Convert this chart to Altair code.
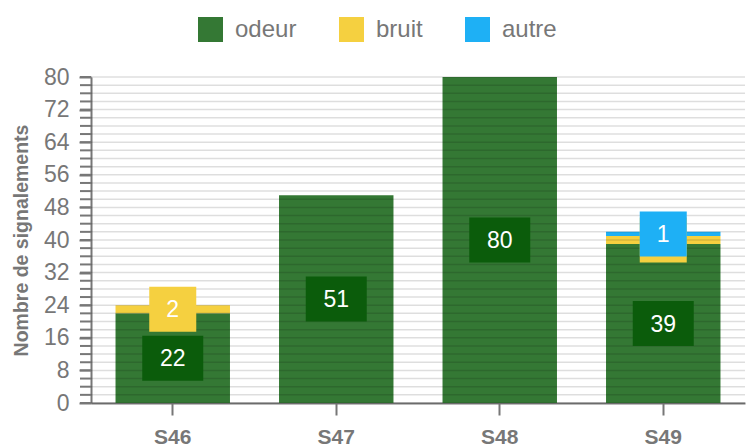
import altair as alt
import pandas as pd

weeks = ["S46", "S47", "S48", "S49"]
series = ["odeur", "bruit", "autre"]
odeur = [22, 51, 80, 39]
bruit = [2, 0, 0, 2]
autre = [0, 0, 0, 1]
bar_colors = ["#347834", "#f5d040", "#1eb0f5"]
label_colors = ["#0b5c0b", "#f5d040", "#1eb0f5"]
y_labels = list(range(0, 81, 8))
y_minor = list(range(0, 82, 2))

rows = []
for s_i, (name, vals) in enumerate(zip(series, [odeur, bruit, autre])):
    for w, v in zip(weeks, vals):
        rows.append({"week": w, "serie": name, "value": v, "ord": s_i})
df = pd.DataFrame(rows)

FONT = "Liberation Sans"
GRAY = "#777777"

base = alt.Chart(df).transform_stack(
    stack="value", groupby=["week"], as_=["y0", "y1"], sort=[alt.SortField("ord")]
).transform_calculate(mid="(datum.y0 + datum.y1) / 2")

xaxis = alt.Axis(title=None, labelFontSize=21, labelFontWeight="bold",
                 labelColor=GRAY, labelPadding=11, tickSize=12, tickWidth=2,
                 tickColor=GRAY, domainColor=GRAY, domainWidth=2, labelAngle=0)
xscale = alt.Scale(paddingInner=0.3, paddingOuter=0.15)
yaxis = alt.Axis(title="Nombre de signalements", values=y_labels,
                 labelOverlap=False, labelBound=False, grid=False, labelFontSize=23,
                 labelColor=GRAY, labelPadding=10, ticks=True, tickSize=12,
                 tickWidth=2, tickColor=GRAY, domainColor=GRAY, domainWidth=2,
                 titleFontSize=19.5, titleFontWeight="bold", titleColor=GRAY,
                 titlePadding=12)
yscale = alt.Scale(domain=[0, 80], nice=False)


def X():
    return alt.X("week:N", sort=weeks, scale=xscale, axis=xaxis)


def Y(field):
    return alt.Y(field, scale=yscale, axis=yaxis, title="Nombre de signalements")


bars = base.mark_bar().encode(
    x=X(),
    y=Y("y1:Q"),
    y2="y0:Q",
    color=alt.Color("serie:N", scale=alt.Scale(domain=series, range=bar_colors),
                    legend=alt.Legend(title=None, orient="none", direction="horizontal",
                                      legendX=107, legendY=-60, symbolType="square",
                                      symbolSize=625, symbolStrokeWidth=0, symbolOpacity=1,
                                      labelFontSize=24, labelColor=GRAY, labelOffset=12,
                                      columnPadding=42, padding=0)),
).transform_filter("datum.value > 0")

minor_df = pd.DataFrame({"v": y_minor})
grid = alt.Chart(minor_df).mark_rule(
    color="#000000", opacity=0.13, strokeWidth=1.5
).encode(y=Y("v:Q"))
minor_ticks = alt.Chart(minor_df).mark_rule(color=GRAY, strokeWidth=2).encode(
    y=Y("v:Q"), x=alt.value(-11), x2=alt.value(0))

layers = [bars, grid, minor_ticks]
widths = [61, 47, 47]
for name, lc, w in zip(series, label_colors, widths):
    sub = base.transform_filter(alt.datum.serie == name).transform_filter("datum.value > 0")
    rect = sub.mark_rect(color=lc, width=w, height=45).encode(
        x=X(), y=Y("mid:Q"))
    txt = sub.mark_text(color="white", fontSize=23, baseline="middle", align="center",
                        dy=1).encode(
        x=X(), y=Y("mid:Q"), text="value:Q")
    layers += [rect, txt]

chart = alt.layer(*layers).properties(
    width=654, height=326,
    autosize=alt.AutoSizeParams(type="none"),
    padding={"left": 91, "top": 77, "right": 3, "bottom": 41},
).configure(font=FONT).configure_view(stroke=None).configure_axisY(labelOverlap=False)

chart.save("out.html", embed_options={"renderer": "svg", "actions": False})
